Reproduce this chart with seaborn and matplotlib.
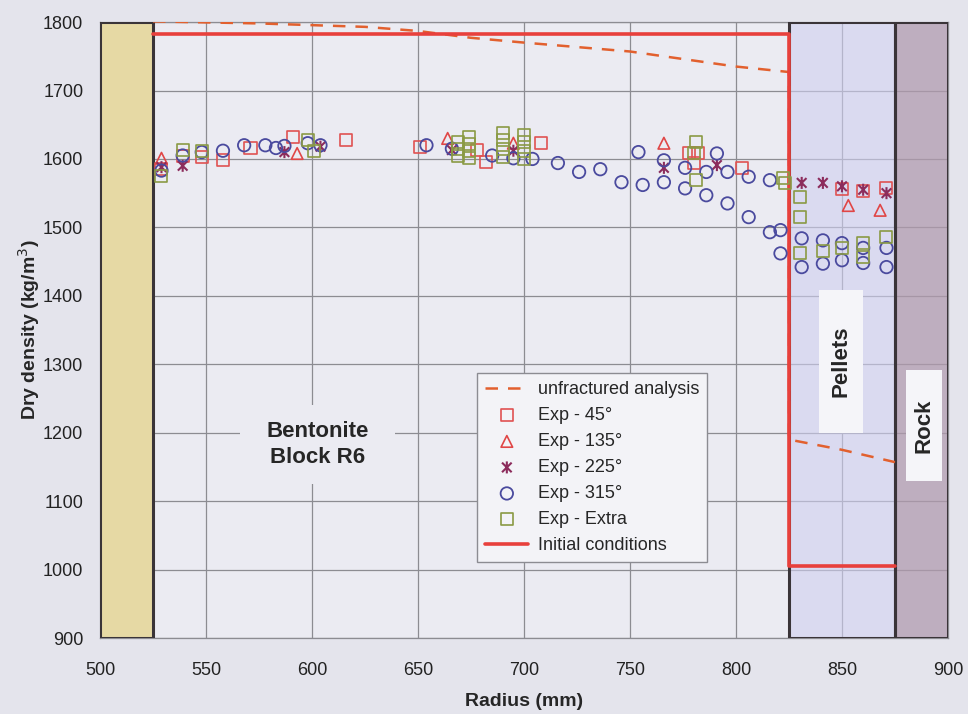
import matplotlib
matplotlib.use("Agg")
import matplotlib.pyplot as plt
import seaborn as sns
from matplotlib.patches import Rectangle
from matplotlib.path import Path

# zone boundaries (mm)
bentonite_zone = [500, 525]
pellets_zone = [825, 875]
rock_zone = [875, 900]

# unfractured analysis (dashed)
unfr_x = [525, 575, 625, 650, 675, 700, 750, 800, 825, 825, 850, 875]
unfr_y = [1801, 1798, 1793, 1787, 1777, 1770, 1757, 1735, 1727, 1190, 1175, 1157]

# initial conditions
init_x = [525, 825, 825, 875]
init_y = [1783, 1783, 1005, 1005]

# Exp - 45
e45_x = [529, 539, 548, 558, 571, 591, 616, 651, 678, 682, 708, 778, 782, 780, 803, 850, 860, 871]
e45_y = [1585, 1605, 1603, 1598, 1616, 1632, 1627, 1617, 1613, 1595, 1623, 1608, 1608, 1594, 1587, 1556, 1553, 1558]

# Exp - 135
e135_x = [529, 593, 664, 695, 766, 853, 868]
e135_y = [1601, 1608, 1630, 1623, 1623, 1532, 1525]

# Exp - 225
e225_x = [529, 539, 587, 604, 666, 695, 766, 791, 831, 841, 850, 860, 871]
e225_y = [1588, 1590, 1610, 1618, 1613, 1612, 1587, 1591, 1565, 1565, 1560, 1555, 1550]

# Exp - 315
e315_x = [529, 539, 548, 558, 568, 578, 583, 587, 598, 604, 654, 666, 685, 695, 704, 716,
          726, 736, 746, 754, 756, 766, 766, 776, 776, 786, 786, 791, 796, 796, 806, 806,
          816, 816, 821, 821, 831, 831, 841, 841, 850, 850, 860, 860, 871, 871]
e315_y = [1583, 1605, 1610, 1612, 1620, 1620, 1616, 1619, 1623, 1620, 1620, 1615, 1605, 1601, 1600, 1594,
          1581, 1585, 1566, 1610, 1562, 1566, 1598, 1587, 1557, 1581, 1547, 1608, 1581, 1535, 1574, 1515,
          1569, 1493, 1496, 1462, 1484, 1442, 1481, 1447, 1477, 1452, 1470, 1448, 1470, 1442]

# Exp - Extra
extra_x = [529, 539, 548, 598, 601, 669, 669, 669, 674, 674, 674, 674, 690, 690, 690, 690,
           700, 700, 700, 700, 781, 780, 781, 822, 823, 830, 830, 830, 841, 850, 860, 860, 871]
extra_y = [1575, 1613, 1612, 1627, 1612, 1625, 1615, 1605, 1632, 1622, 1612, 1602, 1638, 1628, 1615, 1603,
           1635, 1625, 1612, 1600, 1625, 1608, 1569, 1572, 1565, 1544, 1515, 1462, 1465, 1470, 1477, 1457, 1486]

sns.set_style("whitegrid")
plt.rcParams['font.family'] = ['Liberation Sans', 'DejaVu Sans']

fig = plt.figure(figsize=(9.68, 7.14), dpi=100)
fig.patch.set_facecolor('#e4e4ec')
ax = fig.add_axes([0.1033, 0.1064, 0.8760, 0.8627])
ax.set_facecolor('#ebebf2')

# zones
ax.axvspan(*bentonite_zone, facecolor='#e6d9a4', edgecolor='#3a3438', lw=2.2, zorder=3)
ax.axvspan(*pellets_zone, facecolor='#cfcff0', alpha=0.6, edgecolor='none', zorder=1)
ax.axvspan(*pellets_zone, facecolor='none', edgecolor='#3a3438', lw=2.2, zorder=3)
ax.axvspan(*rock_zone, facecolor='#b09aae', alpha=0.75, edgecolor='none', hatch='....', zorder=1)
ax.axvspan(*rock_zone, facecolor='none', edgecolor='#3a3438', lw=2.2, zorder=3)

# label boxes
ax.add_patch(Rectangle((566, 1125), 73, 115, facecolor='#ebebf2', edgecolor='none', zorder=2))
ax.add_patch(Rectangle((839, 1200), 21, 208, facecolor='#f5f5f9', edgecolor='none', zorder=2))
ax.add_patch(Rectangle((880, 1130), 17, 161, facecolor='#f5f5f9', edgecolor='none', zorder=2))

sns.lineplot(x=unfr_x, y=unfr_y, ax=ax, color='#e2602e', lw=1.8, dashes=(5, 4),
             estimator=None, sort=False, label='unfractured analysis', zorder=4)
sns.lineplot(x=init_x, y=init_y, ax=ax, color='#e8403c', lw=2.6,
             estimator=None, sort=False, label='Initial conditions', zorder=4)

star = Path([(0, -1), (0, 1), (-0.8, -0.8), (0.8, 0.8), (-0.8, 0.8), (0.8, -0.8)],
            [Path.MOVETO, Path.LINETO, Path.MOVETO, Path.LINETO, Path.MOVETO, Path.LINETO])

sns.scatterplot(x=e45_x, y=e45_y, ax=ax, marker='s', s=75, facecolors='none',
                edgecolor='#e05252', linewidth=1.2, label='Exp - 45°', zorder=5)
sns.scatterplot(x=e135_x, y=e135_y, ax=ax, marker='^', s=70, facecolors='none',
                edgecolor='#e04646', linewidth=1.2, label='Exp - 135°', zorder=5)
sns.scatterplot(x=e225_x, y=e225_y, ax=ax, marker=star, s=75, facecolors='none',
                edgecolor='#8c2c5c', linewidth=1.5, label='Exp - 225°', zorder=5)
sns.scatterplot(x=e315_x, y=e315_y, ax=ax, marker='o', s=80, facecolors='none',
                edgecolor='#4a4a9e', linewidth=1.3, label='Exp - 315°', zorder=5)
sns.scatterplot(x=extra_x, y=extra_y, ax=ax, marker='s', s=75, facecolors='none',
                edgecolor='#8a9a44', linewidth=1.2, label='Exp - Extra', zorder=5)

ax.text(602.5, 1183, 'Bentonite\nBlock R6', ha='center', va='center', fontsize=16,
        fontweight='bold', linespacing=1.3, zorder=6)
ax.text(849.5, 1305, 'Pellets', rotation=90, ha='center', va='center', fontsize=16,
        fontweight='bold', zorder=6)
ax.text(888.5, 1210, 'Rock', rotation=90, ha='center', va='center', fontsize=16,
        fontweight='bold', zorder=6)

ax.set_xlim(500, 900)
ax.set_ylim(900, 1800)
ax.set_xticks(range(500, 901, 50))
ax.set_yticks(range(900, 1801, 100))
ax.grid(True, color='#8c8c92', lw=0.9)
ax.set_axisbelow(True)
for sp in ax.spines.values():
    sp.set_color('#8c8c92')
    sp.set_linewidth(0.9)
ax.tick_params(labelsize=13, length=0, colors='#222222')
ax.tick_params(axis='y', pad=12)
ax.tick_params(axis='x', pad=17)

ax.set_xlabel('Radius (mm)', fontsize=14, fontweight='bold', labelpad=10)
ax.set_ylabel('Dry density (kg/m$^3$)', fontsize=14, fontweight='bold', labelpad=1)

handles, labels = ax.get_legend_handles_labels()
order = ['unfractured analysis', 'Exp - 45°', 'Exp - 135°', 'Exp - 225°',
         'Exp - 315°', 'Exp - Extra', 'Initial conditions']
hmap = dict(zip(labels, handles))
leg = ax.legend([hmap[k] for k in order], order, loc='upper left',
                bbox_to_anchor=(0.434, 0.445), fontsize=13, frameon=True,
                fancybox=False, framealpha=1, facecolor='#f3f3f7', edgecolor='#8c8c92',
                handlelength=2.4, handletextpad=0.5, labelspacing=0.5, borderpad=0.45)
leg.set_zorder(7)

fig.savefig('out.png', dpi=100, facecolor=fig.get_facecolor())
